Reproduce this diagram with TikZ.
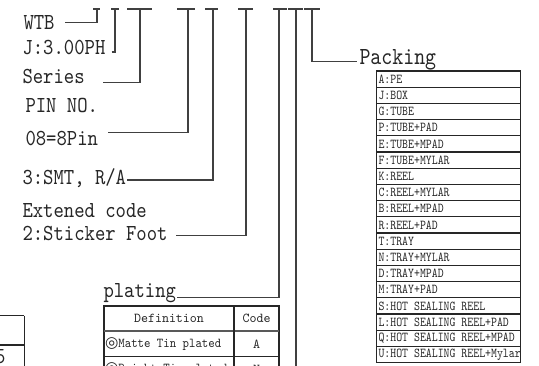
\documentclass[tikz,border=0pt]{standalone}
\usepackage{fontspec}
\newfontfamily\symfont{DejaVu Sans}
\newfontfamily\lblfam{lmmono10-regular.otf}[FakeStretch=0.86]
\newfontfamily\bigfam{lmmono10-regular.otf}[FakeStretch=0.85]
\newfontfamily\pkfam{lmmono10-regular.otf}[FakeStretch=0.83]
\newfontfamily\plfam{lmmono10-regular.otf}[FakeStretch=0.98]
\newfontfamily\rowfam{lmmono10-regular.otf}[FakeStretch=0.9]
\newcommand{\platemark}{{\symfont\fontsize{11.5}{13}\selectfont ◎}}

\begin{document}
\begin{tikzpicture}[x=0.75pt, y=-0.75pt, line width=0.8pt,
  wire/.style={draw=black!75},
  grid/.style={draw=black!85},
  lbl/.style={anchor=base west, inner sep=0pt, text=black!85,
    font=\lblfam\fontsize{17.2}{20}\selectfont},
  pk/.style={anchor=west, inner sep=0pt, text=black!85,
    font=\pkfam\fontsize{10.2}{12}\selectfont},
  pl/.style={inner sep=0pt, text=black!85,
    font=\plfam\fontsize{10.2}{12}\selectfont},
  plrow/.style={pl, anchor=west, font=\rowfam\fontsize{10.2}{12}\selectfont}]
  \useasboundingbox (0,0) rectangle (539,366);
  \clip (0,0) rectangle (539,366);
  % 编码位：顶部短横线
  \foreach \n/\a/\m/\b in {1/93/97/100, 2/111/115/119, 3/127/140/152,
      4/177/188/195, 5/205/213/218, 6/238/246/253, 7/273/279/287,
      8/288/296/303, 9/304/312/320} {
    \draw[wire] (\a,9) -- (\b,9);
    \coordinate (t\n) at (\m,9);
  }
  % 左侧说明文字
  \node[lbl] (wtb) at (23,29.5) {WTB};
  \node[lbl] (pitch) at (22,55) {J:3.00PH};
  \node[lbl] (series) at (22,84) {Series};
  \node[lbl] (pinno) at (25,113) {PIN NO.};
  \node[lbl] (pins) at (25,146) {08=8Pin};
  \node[lbl] (smt) at (22,185) {3:SMT, R/A};
  \node[lbl] (ext) at (22,218) {Extened code};
  \node[lbl] (foot) at (22,241) {2:Sticker Foot};
  \node[lbl] (plating) at (103,298) {plating};
  \node[lbl, font=\bigfam\fontsize{18.4}{21}\selectfont] (packing) at (359,65) {Packing};
  % 引线起点
  \coordinate (wtb-l) at (65,22.7);
  \coordinate (pitch-l) at (111.5,52);
  \coordinate (series-l) at (103,82.7);
  \coordinate (pins-l) at (108,132.7);
  \coordinate (smt-l) at (127,180);
  \coordinate (foot-l) at (176,235.5);
  \coordinate (plating-l) at (177,297.3);
  \coordinate (packing-l) at (357,61.7);
  \coordinate (down) at (296,380);
  \draw[wire] (wtb-l) -| (t1);
  \draw[wire] (pitch-l) -| (t2);
  \draw[wire] (series-l) -| (t3);
  \draw[wire] (pins-l) -| (t4);
  \draw[wire] (smt-l) -| (t5);
  \draw[wire] (foot-l) -| (t6);
  \draw[wire] (plating-l) -| (t7);
  \draw[wire] (t8) -- (down);
  \draw[wire] (t9) |- (packing-l);
  % Packing 表
  \draw[grid] (376.7,71) rectangle (520.7,362.6);
  \foreach \i in {1,...,17}
    \draw[grid] (376.7,71+16.2*\i) -- (520.7,71+16.2*\i);
  \foreach \t [count=\i from 0] in {A:PE, J:BOX, G:TUBE, P:TUBE+PAD,
      E:TUBE+MPAD, F:TUBE+MYLAR, K:REEL, C:REEL+MYLAR, B:REEL+MPAD,
      R:REEL+PAD, T:TRAY, N:TRAY+MYLAR, D:TRAY+MPAD, M:TRAY+PAD,
      S:HOT SEALING REEL, L:HOT SEALING REEL+PAD,
      Q:HOT SEALING REEL+MPAD, U:HOT SEALING REEL+Mylar}
    \node[pk] (pk\i) at (378,79.1+16.2*\i) {\t};
  % plating 表
  \draw[grid] (104,306) rectangle (279,382);
  \draw[grid, line width=1.3pt, draw=black!65] (104,330.7) -- (279,330.7);
  \draw[grid] (104,356.7) -- (279,356.7);
  \draw[grid] (234,306) -- (234,382);
  \node[pl] (defhead) at (169,318.5) {Definition};
  \node[pl] (codehead) at (256.5,318.5) {Code};
  \node[plrow] (matte) at (104.5,344) {\platemark Matte Tin plated};
  \node[pl] (matte-c) at (256.5,344) {A};
  \node[plrow] (bright) at (104.5,369) {\platemark Bright Tin plated};
  \node[pl] (bright-c) at (256.5,369) {N};
  % 左下角残表
  \draw[grid] (0,315.7) -- (24.3,315.7);
  \draw[grid] (0,345) -- (24.3,345);
  \draw[grid] (24.3,315.7) -- (24.3,370);
  \node[lbl, anchor=base east] (five) at (6,364) {5};
\end{tikzpicture}
\end{document}
